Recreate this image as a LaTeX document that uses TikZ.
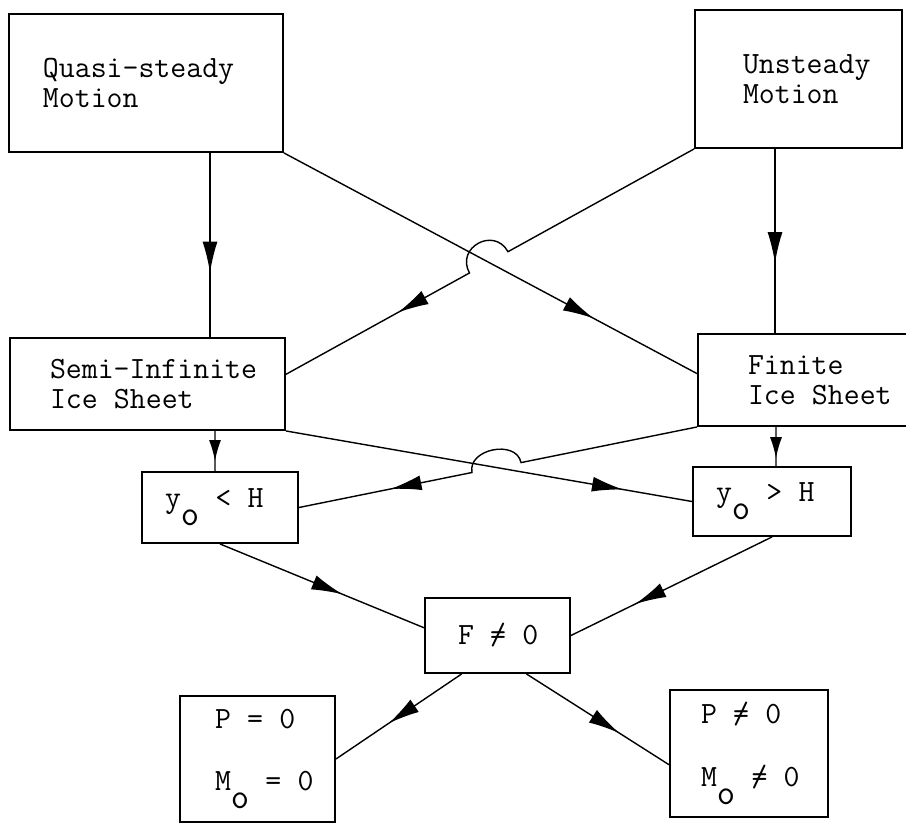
\documentclass[tikz,border=0pt]{standalone}
\usetikzlibrary{arrows.meta,decorations.markings,calc}
\newcommand{\boxfont}{\fontsize{17.6}{17}\selectfont\ttfamily}
\tikzstyle{box}=[draw,line width=1.1pt,align=left,inner ysep=0pt,font=\boxfont]
\tikzstyle{arrowat}=[line width=0.8pt,postaction={decorate},decoration={markings,mark=at position #1 with {\arrow{Latex[length=0.62cm,width=0.3cm]}}}]
\tikzstyle{arrowsm}=[line width=0.8pt,postaction={decorate},decoration={markings,mark=at position #1 with {\arrow{Latex[length=0.42cm,width=0.24cm]}}}]
\newcommand{\lowo}{\raisebox{-0.36cm}{\scalebox{1.15}{o}}}
\newcommand{\neqt}{\rlap{/}=}
\newcommand{\gap}{\hspace*{0.525em}}

\begin{document}
\begin{tikzpicture}
\useasboundingbox (0,0) rectangle (18.12,-16.46);

%boxes
\node[box,text width=4.12cm,inner xsep=0.68cm,minimum height=2.76cm] (qs) at (2.92,-1.66) {Quasi-steady\\Motion};
\node[box,text width=2.22cm,inner xsep=0.96cm,minimum height=2.76cm] (us) at (15.97,-1.58) {Unsteady\\Motion};
\node[box,text width=3.90cm,inner xsep=0.80cm,minimum height=1.84cm] (si) at (2.95,-7.68) {Semi-Infinite\\Ice\gap{}Sheet};
\node[box,text width=2.84cm,inner xsep=1.00cm,minimum height=1.84cm] (fi) at (16.38,-7.60) {Finite\\Ice\gap{}Sheet};
\node[box,text width=2.20cm,inner xsep=0.46cm,minimum height=1.42cm] (lt) at (4.40,-10.15) {y\lowo\gap{}<\gap{}H};
\node[box,text width=2.24cm,inner xsep=0.46cm,minimum height=1.38cm] (gt) at (15.44,-10.03) {y\lowo\gap{}>\gap{}H};
\node[box,text width=1.58cm,inner xsep=0.66cm,minimum height=1.50cm] (fz) at (9.95,-12.71) {F\gap\neqt\gap{}0};
\node[box,text width=1.70cm,inner xsep=0.70cm,minimum height=2.52cm] (pz) at (5.15,-15.18) {P\gap{}=\gap{}0\\[0.66cm]M\lowo\gap{}=\gap{}0};
\node[box,text width=1.92cm,inner xsep=0.62cm,minimum height=2.54cm] (pn) at (14.98,-15.07) {P\gap\neqt\gap{}0\\[0.66cm]M\lowo\gap\neqt\gap{}0};

%crossings
\coordinate (hopa) at (intersection of qs.south east--fi.177 and us.south west--si.4);
\coordinate (h1a) at ($(hopa)!0.44cm!(us.south west)$);
\coordinate (h1b) at ($(hopa)!0.44cm!(si.4)$);
\coordinate (hopb) at (intersection of si.south east--gt.west and fi.south west--lt.east);
\coordinate (h2a) at ($(hopb)!0.5cm!(fi.south west)$);
\coordinate (h2b) at ($(hopb)!0.5cm!(lt.east)$);

%arrows
\draw[arrowat=0.65] ([xshift=1.28cm]qs.south) -- ([xshift=1.25cm]si.north);
\draw[arrowat=0.62] ([xshift=-0.47cm]us.south) -- ([xshift=-0.88cm]fi.north);
\draw[arrowat=0.75] (qs.south east) -- (fi.177);
\draw[arrowat=0.74] (us.south west) -- (h1a) .. controls ($(h1a)!0.58cm!-90:(h1b)$) and ($(h1b)!0.58cm!90:(h1a)$) .. (h1b) -- (si.4);
\draw[arrowsm=0.75] ([xshift=1.35cm]si.south) -- ([xshift=-0.1cm]lt.north);
\draw[arrowsm=0.8] ([xshift=-0.86cm]fi.south) -- ([xshift=0.08cm]gt.north);
\draw[arrowat=0.83] (si.south east) -- (gt.west);
\draw[arrowat=0.78] (fi.south west) -- (h2a) .. controls ($(h2a)!0.48cm!-90:(h2b)$) and ($(h2b)!0.48cm!90:(h2a)$) .. (h2b) -- (lt.east);
\draw[arrowat=0.6] (lt.south) -- (fz.174);
\draw[arrowat=0.68] (gt.south) -- (fz.east);
\draw[arrowat=0.58] (fz.227) -- (pz.east);
\draw[arrowat=0.65] (fz.307) -- (pn.188);

\end{tikzpicture}
\end{document}
